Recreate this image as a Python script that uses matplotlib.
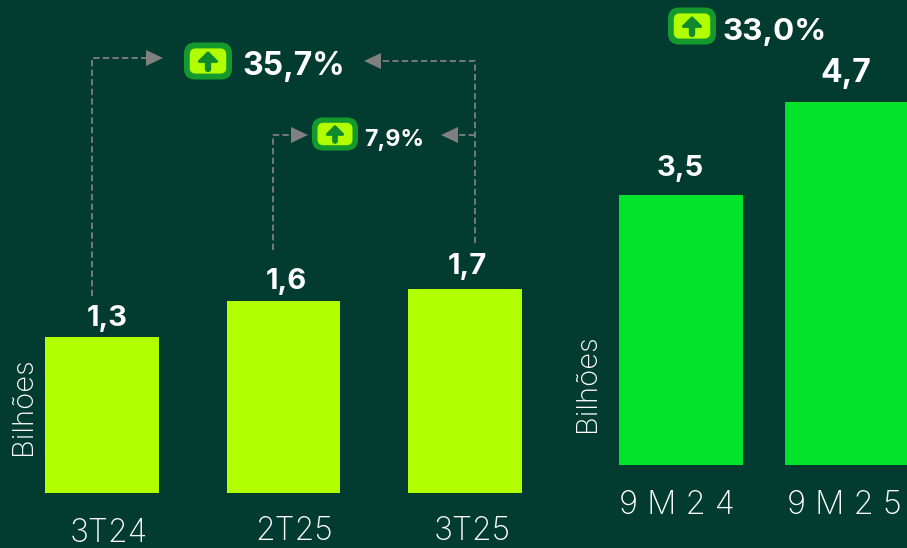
import matplotlib
matplotlib.use("Agg")
import matplotlib.pyplot as plt
from matplotlib.patches import FancyBboxPatch, Polygon

W, H = 907, 548
BG = "#023B2F"
LIME = "#B2FF00"
GREEN = "#00E32B"
GRAY = "#808080"
FONT = "Inter"

quarters = ["3T24", "2T25", "3T25"]
quarter_values = [1.3, 1.6, 1.7]
quarter_labels = ["1,3", "1,6", "1,7"]
periods = ["9 M 2 4", "9 M 2 5"]
period_values = [3.5, 4.7]
period_labels = ["3,5", "4,7"]

plt.rcParams["font.family"] = [FONT, "DejaVu Sans"]
fig = plt.figure(figsize=(W / 100, H / 100), dpi=100, facecolor=BG)


def make_axes(x0, x1, y_top, y_bottom):
    ax = fig.add_axes([x0 / W, 1 - y_bottom / H, (x1 - x0) / W, (y_bottom - y_top) / H])
    ax.set_facecolor("none")
    for s in ax.spines.values():
        s.set_visible(False)
    ax.set_yticks([])
    ax.tick_params(axis="x", length=0)
    return ax


# left panel: 120 px per unit
axl = make_axes(11.25, 555.75, 0, 493)
axl.set_ylim(0, 493 / 120)
axl.set_xlim(-0.5, 2.5)
axl.bar(range(3), quarter_values, width=0.626, color=LIME)
axl.set_xticks([])
for i, (v, t, dx, dy) in enumerate(zip(quarter_values, quarter_labels, [5, 3, 2], [5, 6, 9])):
    axl.annotate(t, (i, v), xytext=(dx, dy), textcoords="offset pixels", ha="center", va="bottom",
                 color="white", fontsize=21, fontweight="bold")

# right panel: 77.2 px per unit
axr = make_axes(598, 930, 0, 465)
axr.set_ylim(0, 465 / 77.2)
axr.set_xlim(-0.5, 1.5)
axr.bar(range(2), period_values, width=0.747, color=GREEN)
axr.set_xticks([])
for i, (v, t, dx, dy, fs) in enumerate(zip(period_values, period_labels, [-1, -1], [13, 13], [21, 23])):
    axr.annotate(t, (i, v), xytext=(dx, dy), textcoords="offset pixels", ha="center", va="bottom",
                 color="white", fontsize=fs, fontweight="bold")

# overlay in pixel coordinates
ov = fig.add_axes([0, 0, 1, 1])
ov.set_xlim(0, W)
ov.set_ylim(H, 0)
ov.axis("off")
ov.patch.set_alpha(0)

for x, y, t in zip([109, 294.5, 472], [534, 532, 532], quarters):
    ov.text(x, y, t, ha="center", va="center", color="white", fontsize=23, fontweight="light")
for x, t in zip([677, 844], periods):
    ov.text(x, 506, t, ha="center", va="center", color="white", fontsize=23.5, fontweight="light")
ov.text(23, 406, "Bilhões", rotation=90, ha="center", va="center", color="white", fontsize=21, fontweight="light")
ov.text(587, 383, "Bilhões", rotation=90, ha="center", va="center", color="white", fontsize=21, fontweight="light")


def icon(cx, cy, w, h):
    ov.add_patch(FancyBboxPatch((cx - w / 2 + 6, cy - h / 2 + 6), w - 12, h - 12,
                                boxstyle="round,pad=6,rounding_size=11", fc="#149A2C", ec="none", zorder=3))
    iw, ih = w * 0.76, h * 0.68
    ov.add_patch(FancyBboxPatch((cx - iw / 2 + 4, cy - ih / 2 + 4), iw - 8, ih - 8,
                                boxstyle="round,pad=4,rounding_size=6", fc=LIME, ec="none", zorder=4))
    s = h / 36
    ov.add_patch(Polygon([(cx, cy - 8 * s), (cx + 8.5 * s, cy + 0.5 * s), (cx - 8.5 * s, cy + 0.5 * s)],
                         closed=True, fc="#0E8A2D", ec="#0E8A2D", lw=2, joinstyle="round", zorder=5))
    ov.plot([cx, cx], [cy, cy + 8 * s], color="#0E8A2D", lw=4.5 * s, solid_capstyle="round", zorder=5)


icon(208, 61, 48, 37)
icon(335, 134, 46, 33)
icon(692, 26, 48, 37)
ov.text(242, 66, "35,7%", color="white", fontsize=23, fontweight="bold", va="center", ha="left")
ov.text(364, 140, "7,9%", color="white", fontsize=16.7, fontweight="bold", va="center", ha="left")
ov.text(723, 32, "33,0%", color="white", fontsize=22.6, fontweight="bold", va="center", ha="left")


def route(xs, ys, tip, direction):
    ov.plot(xs, ys, color=GRAY, lw=1.3, ls=(0, (3.5, 1.8)), zorder=2)
    x, y = tip
    ov.add_patch(Polygon([(x, y), (x - direction * 17, y - 8), (x - direction * 17, y + 8)],
                         closed=True, fc=GRAY, ec="none", zorder=2))


route([92, 92, 148], [296, 58, 58], (163, 58), 1)
route([475, 475, 380], [243, 61, 61], (364, 61), -1)
route([273, 273, 293], [250, 135, 135], (308, 135), 1)
route([475, 457], [135, 135], (441, 135), -1)

fig.savefig("out.png", dpi=100, facecolor=BG)
